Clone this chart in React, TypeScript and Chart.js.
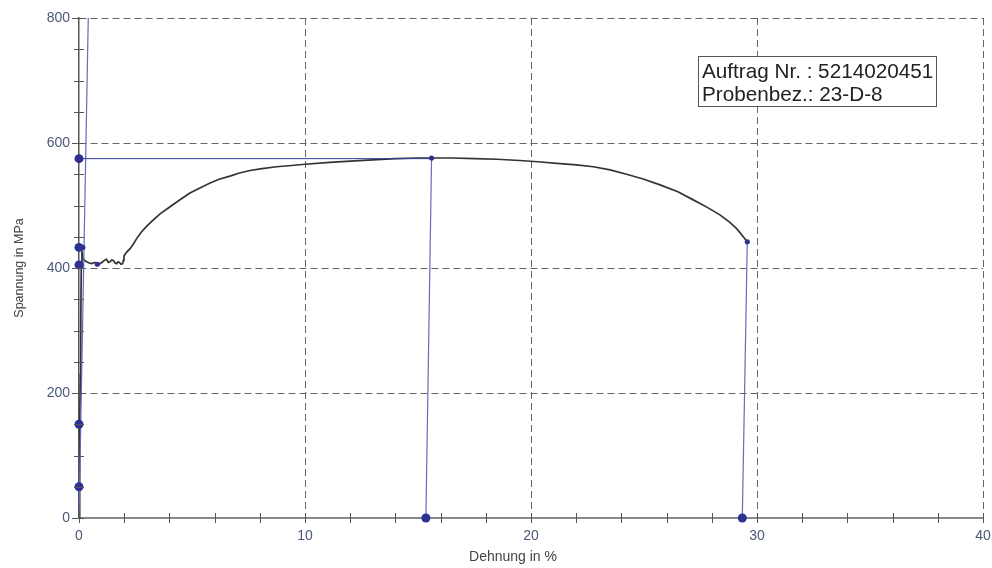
import React, { useEffect, useRef } from "react";
import { Chart, registerables } from "chart.js";

Chart.register(...registerables);

// Stress-strain curve (Dehnung in %, Spannung in MPa)
const curveStrain = [0, 0.02, 0.04, 0.06, 0.08, 0.1, 0.13, 0.16, 0.25, 0.34, 0.45, 0.56, 0.7, 0.8, 0.93, 1.05, 1.15, 1.22, 1.3, 1.37, 1.45, 1.52, 1.6, 1.67, 1.73, 1.79, 1.86, 1.93, 1.96, 1.99, 2.1, 2.26, 2.4, 2.55, 2.77, 3.0, 3.29, 3.6, 4.03, 4.5, 4.91, 5.35, 5.8, 6.2, 6.68, 7.1, 7.57, 8.1, 8.74, 9.4, 10.0, 11.1, 12.0, 13.0, 14.0, 15.0, 15.6, 16.5, 17.5, 18.5, 19.5, 20.3, 21.28, 22.0, 22.76, 23.5, 24.23, 25.0, 25.71, 26.5, 27.18, 27.8, 28.36, 28.8, 29.1, 29.35, 29.57];
const curveStress = [0, 60, 140, 230, 320, 400, 428, 416, 412, 410, 408, 407, 409, 406, 407, 410, 413, 414, 409, 410, 413, 412, 408, 407, 410, 409, 406, 407, 412, 419, 425, 431, 438, 447, 458, 467, 477, 487, 498, 510, 520, 528, 536, 542, 547, 552, 556, 559, 562, 564, 566, 569, 571, 573, 575, 576, 576, 576, 575, 574, 572, 570, 567, 565, 562, 557, 550, 542, 533, 522, 509, 497, 485, 473, 463, 452, 442];

// Elastic (modulus) line
const elasticStrain = [0.0, 0.41];
const elasticStress = [0, 800];

// Rm line and unloading lines
const rmStrain = [0, 15.6];
const rmStress = [575, 575];
const agStrain = [15.6, 15.35];
const agStress = [576, 0];
const aStrain = [29.57, 29.35];
const aStress = [442, 0];

// Marker points
const bigDotStrain = [0, 0, 0, 0, 0, 15.35, 29.35];
const bigDotStress = [575, 433, 405, 150, 50, 0, 0];
const smallDotStrain = [0.17, 0.81, 15.6, 29.57];
const smallDotStress = [433, 406, 576, 442];

// Axes
const xMin = 0, xMax = 40, xMajor = 10, xMinor = 2;
const yMin = 0, yMax = 800, yMajor = 200, yMinor = 50;

const xTitle = "Dehnung in %";
const yTitle = "Spannung in MPa";
const infoLines = ["Auftrag Nr. : 5214020451", "Probenbez.: 23-D-8"];

const FONT = '"Liberation Sans", Arial, sans-serif';

const pts = (xs: number[], ys: number[]) => xs.map((x, i) => ({ x, y: ys[i] }));

const tickPlugin = {
  id: "crossTicks",
  afterDatasetsDraw(chart: any) {
    const { ctx, chartArea, scales } = chart;
    ctx.save();
    ctx.strokeStyle = "#555";
    ctx.lineWidth = 1;
    const xs = scales.x;
    for (let v = xMin; v <= xMax + 1e-9; v += xMinor) {
      const px = Math.round(xs.getPixelForValue(v)) + 0.5;
      ctx.beginPath();
      ctx.moveTo(px, chartArea.bottom - 5);
      ctx.lineTo(px, chartArea.bottom + 5);
      ctx.stroke();
    }
    const ys = scales.y;
    for (let v = yMin; v <= yMax + 1e-9; v += yMinor) {
      const py = Math.round(ys.getPixelForValue(v)) + 0.5;
      const major = v % yMajor === 0;
      ctx.beginPath();
      ctx.moveTo(chartArea.left - (major ? 7 : 5), py);
      ctx.lineTo(chartArea.left + 5, py);
      ctx.stroke();
    }
    ctx.restore();
  },
  afterDraw(chart: any) {
    const { ctx } = chart;
    ctx.save();
    // x axis title
    ctx.fillStyle = "#444";
    ctx.font = `14px ${FONT}`;
    ctx.textAlign = "center";
    ctx.textBaseline = "middle";
    ctx.fillText(xTitle, 513, 557);
    // info box
    const bx = 698.5, by = 56.5, bw = 238, bh = 50;
    ctx.fillStyle = "#fff";
    ctx.fillRect(bx, by, bw, bh);
    ctx.strokeStyle = "#555";
    ctx.lineWidth = 1;
    ctx.strokeRect(bx, by, bw, bh);
    ctx.fillStyle = "#222";
    ctx.font = `20.7px ${FONT}`;
    ctx.textBaseline = "alphabetic";
    ctx.textAlign = "left";
    ctx.fillText(infoLines[0], 702, 78);
    ctx.fillText(infoLines[1], 702, 101);
    ctx.restore();
  },
};

export default function App() {
  const ref = useRef<HTMLCanvasElement>(null);
  useEffect(() => {
    if (!ref.current) return;
    const font = { family: FONT };
    const chart = new Chart(ref.current, {
      type: "scatter",
      data: {
        datasets: [
          {
            data: pts(bigDotStrain, bigDotStress),
            showLine: false,
            pointRadius: 4.5,
            pointBackgroundColor: "#2e3192",
            pointBorderColor: "#2e3192",
            pointBorderWidth: 0,
            clip: false,
          } as any,
          {
            data: pts(smallDotStrain, smallDotStress),
            showLine: false,
            pointRadius: 2.6,
            pointBackgroundColor: "#2e3192",
            pointBorderColor: "#2e3192",
            pointBorderWidth: 0,
            clip: false,
          },
          {
            data: pts(rmStrain, rmStress),
            showLine: true,
            borderColor: "#3a3d9a",
            borderWidth: 1,
            pointRadius: 0,
          },
          {
            data: pts(agStrain, agStress),
            showLine: true,
            borderColor: "#6669c0",
            borderWidth: 1.2,
            pointRadius: 0,
          },
          {
            data: pts(aStrain, aStress),
            showLine: true,
            borderColor: "#6669c0",
            borderWidth: 1.2,
            pointRadius: 0,
          },
          {
            data: pts(elasticStrain, elasticStress),
            showLine: true,
            borderColor: "#6669c0",
            borderWidth: 1.2,
            pointRadius: 0,
          },
          {
            data: pts(curveStrain, curveStress),
            showLine: true,
            borderColor: "#333",
            borderWidth: 1.7,
            pointRadius: 0,
            tension: 0,
          },
        ],
      },
      options: {
        animation: false,
        responsive: true,
        maintainAspectRatio: false,
        layout: { padding: { top: 18, right: 0, left: 0, bottom: 0 } },
        plugins: { legend: { display: false }, tooltip: { enabled: false } },
        scales: {
          x: {
            type: "linear",
            min: xMin,
            max: xMax,
            afterFit: (s: any) => { s.height = 50; s.paddingLeft = 0; s.paddingRight = 9; },
            ticks: {
              stepSize: xMinor,
              padding: 10,
              color: "#4a5878",
              font: { ...font, size: 14 },
              callback: (v: any) => (Number(v) % xMajor === 0 ? String(v) : ""),
              maxRotation: 0,
              autoSkip: false,
            },
            grid: {
              drawTicks: false,
              color: (c: any) => (c.tick && c.tick.value % xMajor === 0 && c.tick.value !== 0 ? "#666" : "rgba(0,0,0,0)"),
              lineWidth: 1,
            },
            border: { display: true, color: "#888", width: 2, dash: [7, 4] },
            title: { display: false },
          },
          y: {
            type: "linear",
            min: yMin,
            max: yMax,
            afterFit: (s: any) => { s.width = 79; },
            ticks: {
              stepSize: yMinor,
              padding: 9,
              color: "#4a5878",
              font: { ...font, size: 14 },
              callback: (v: any) => (Number(v) % yMajor === 0 ? String(v) : ""),
              autoSkip: false,
            },
            grid: {
              drawTicks: false,
              color: (c: any) => (c.tick && c.tick.value % yMajor === 0 && c.tick.value !== 0 ? "#666" : "rgba(0,0,0,0)"),
              lineWidth: 1,
            },
            border: { display: true, color: "#555", width: 1.5, dash: [7, 4] },
            title: {
              display: true,
              text: yTitle,
              color: "#444",
              font: { ...font, size: 12.5 },
              padding: { top: 12, bottom: 0 },
            },
          },
        },
      },
      plugins: [tickPlugin],
    });
    return () => chart.destroy();
  }, []);
  return (
    <div style={{ position: "absolute", left: 0, top: 0, width: 992, height: 568, background: "#fff" }}>
      <canvas ref={ref} />
    </div>
  );
}
